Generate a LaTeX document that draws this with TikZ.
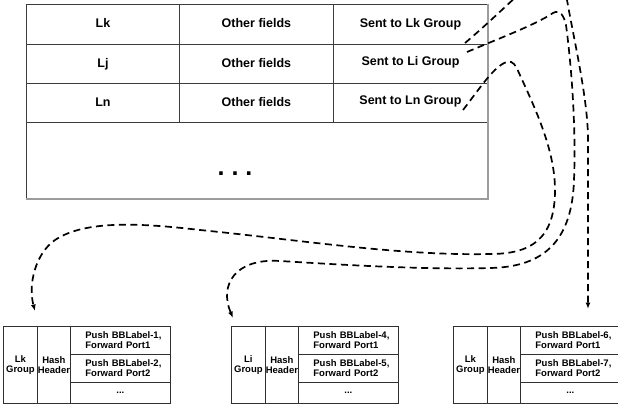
\documentclass[tikz,border=0pt]{standalone}
\usepackage{fontspec}
\setmainfont{Liberation Sans}
\usetikzlibrary{arrows.meta,calc}

\definecolor{tabline}{HTML}{3C3C3C}
\definecolor{edgegrey}{HTML}{9C9C9C}
\definecolor{boxline}{HTML}{303030}
\newcommand\lpad{\hspace*{15pt}}

\begin{document}
\begin{tikzpicture}[x=1pt, y=-1pt,
  tcell/.style={draw=tabline, line width=0.9pt, anchor=north west, inner sep=0pt,
    minimum height=39.3pt, font=\bfseries\fontsize{12.5}{15}\selectfont,
    text height=9pt, text depth=2.6pt},
  lifted/.style={text depth=6.4pt},
  gcell/.style={draw=boxline, line width=0.8pt, anchor=north west, inner sep=0pt,
    font=\bfseries\fontsize{9.5}{10.5}\selectfont, align=center},
  ecell/.style={gcell, text width=100pt, align=left},
  route/.style={line width=1.7pt, dash pattern=on 7pt off 4.5pt,
    -{Latex[length=6.5pt,width=5pt]}},
]
\useasboundingbox (0,0) rectangle (618,406);
\clip (0,0) rectangle (618,406);

% label table
\node[tcell, minimum width=153pt] (kName)  at (26,4.5)  {Lk};
\node[tcell, minimum width=154pt] (kOther) at (179,4.5) {Other fields};
\node[tcell, minimum width=154pt] (kSend)  at (333,4.5) {Sent to Lk Group};
\node[tcell, minimum width=153pt] (jName)  at (26,43.8) {Lj};
\node[tcell, minimum width=154pt] (jOther) at (179,43.8) {Other fields};
\node[tcell, lifted, minimum width=154pt] (jSend) at (333,43.8) {Sent to Li Group};
\node[tcell, minimum width=153pt] (nName)  at (26,83.1) {Ln};
\node[tcell, minimum width=154pt] (nOther) at (179,83.1) {Other fields};
\node[tcell, lifted, minimum width=154pt] (nSend) at (333,83.1) {Sent to Ln Group};
\node[tcell, minimum width=461pt, minimum height=75.5pt] (more) at (26,122.4) {};
\node[font=\bfseries\fontsize{25}{25}\selectfont, anchor=base, inner sep=0pt]
  (dots) at (235,175.5) {.\ .\ .};
\draw[edgegrey, line width=1.6pt] (kSend.north east) -- (more.south east) -- (more.south west);

% group tables
\foreach \bx/\gname/\la/\lb/\s in {3/Lk/1/2/a, 231/Li/4/5/b, 453/Lk/6/7/c}{
  \node[gcell, minimum width=34pt, minimum height=77pt] (grp\s) at (\bx,326) {\gname\\Group};
  \node[gcell, minimum width=33pt, minimum height=77pt] (hash\s) at ({\bx+34},326) {Hash\\Header};
  \node[ecell, minimum height=27.5pt] (pa\s) at ({\bx+67},326)
    {\lpad Push BBLabel-\la,\\\lpad Forward Port1};
  \node[ecell, minimum height=28.5pt] (pb\s) at ({\bx+67},353.5)
    {\lpad Push BBLabel-\lb,\\\lpad Forward Port2};
  \node[gcell, text width=100pt, minimum height=21pt] (pc\s) at ({\bx+67},382) {...};
}

% route ends
\coordinate (kFrom) at (465,43);
\coordinate (iFrom) at (467,52);
\coordinate (nFrom) at (463,110);
\coordinate (kTo) at (588,309);
\coordinate (iTo) at (233,318);
\coordinate (nTo) at (35,311);

% Lk entry -> right group
\draw[route] (kFrom) .. controls (490,22) and (517,-5) .. (535,-20)
  .. controls (555,-30) and (563,-15) .. (567,0)
  .. controls (575,45) and (588,100) .. (588,140) -- (kTo);

% Li entry -> middle group
\draw[route] (iFrom) .. controls (500,38) and (535,25) .. (553,13)
  .. controls (560,9) and (564,16) .. (566,25)
  .. controls (572,70) and (576,130) .. (574,180)
  .. controls (572,240) and (545,267) .. (490,268)
  .. controls (420,270) and (330,264) .. (280,261)
  .. controls (235,258) and (219,285) .. (iTo);

% Ln entry -> left group
\draw[route] (nFrom) .. controls (480,88) and (495,65) .. (507,62)
  .. controls (513,60) and (516,66) .. (519,73)
  .. controls (535,108) and (555,150) .. (555,190)
  .. controls (555,240) and (530,254) .. (490,254)
  .. controls (400,256) and (300,240) .. (200,230)
  .. controls (140,223) and (85,220) .. (55,240)
  .. controls (35,254) and (28,285) .. (nTo);
\end{tikzpicture}
\end{document}
